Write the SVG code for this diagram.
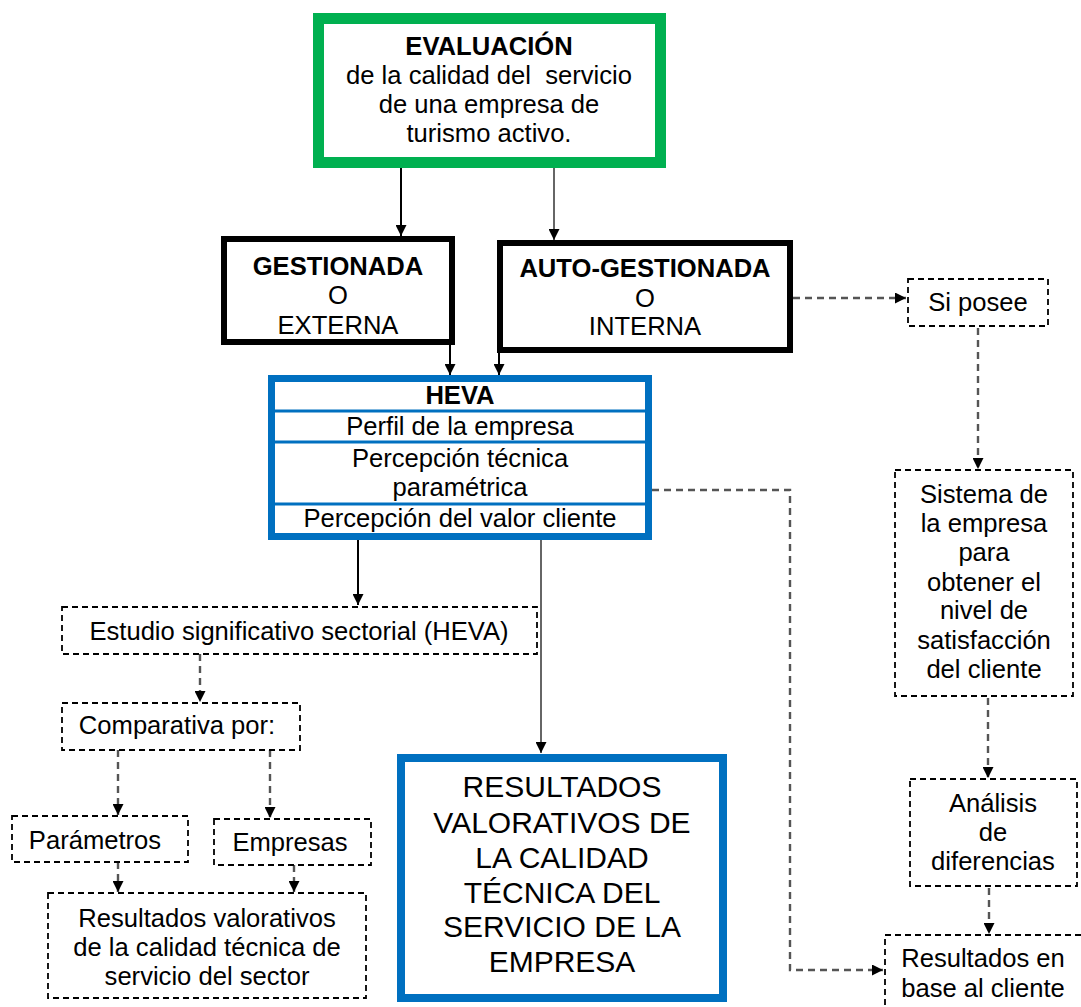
<svg xmlns="http://www.w3.org/2000/svg" width="1081" height="1007" viewBox="0 0 1081 1007">
  <style>
    .t { font-family: "Liberation Sans", Arial, sans-serif; font-size: 25.6px; text-anchor: middle; fill: #000; white-space: pre; }
    .b { font-weight: bold; }
    .big { font-size: 30px; }
    .dbox { fill: #fff; stroke: #000; stroke-width: 1.8; stroke-dasharray: 6 4; }
    .solid { fill: none; stroke: #000; stroke-width: 2; }
    .grey { fill: none; stroke: #666; stroke-width: 2; }
    .dash { fill: none; stroke: #555; stroke-width: 2.4; stroke-dasharray: 7 5; }
  </style>
  <defs>
    <marker id="arrow" viewBox="0 0 10 10" refX="10" refY="5" markerWidth="11" markerHeight="11" markerUnits="userSpaceOnUse" orient="auto">
      <path d="M0,0 L10,5 L0,10 z" fill="#000"/>
    </marker>
  </defs>

  <rect width="1081" height="1007" fill="#fff"/>

  <!-- connectors -->
  <g id="connectors">
    <line class="solid" x1="401" y1="168" x2="401" y2="236" marker-end="url(#arrow)"/>
    <line class="grey" x1="554" y1="168" x2="554" y2="240" marker-end="url(#arrow)"/>
    <line class="solid" x1="450" y1="345" x2="450" y2="375" marker-end="url(#arrow)"/>
    <line class="solid" x1="499" y1="353" x2="499" y2="375" marker-end="url(#arrow)"/>
    <line class="solid" x1="358" y1="540" x2="358" y2="605" marker-end="url(#arrow)"/>
    <line class="grey" x1="541" y1="540" x2="541" y2="753" marker-end="url(#arrow)"/>
    <line class="dash" x1="200" y1="654" x2="200" y2="702" marker-end="url(#arrow)"/>
    <line class="dash" x1="118" y1="750" x2="118" y2="815" marker-end="url(#arrow)"/>
    <line class="dash" x1="270" y1="750" x2="270" y2="818" marker-end="url(#arrow)"/>
    <line class="dash" x1="118" y1="862" x2="118" y2="892" marker-end="url(#arrow)"/>
    <line class="dash" x1="294" y1="865" x2="294" y2="892" marker-end="url(#arrow)"/>
    <line class="dash" x1="793" y1="298" x2="906" y2="298" marker-end="url(#arrow)"/>
    <line class="dash" x1="978" y1="328" x2="978" y2="469" marker-end="url(#arrow)"/>
    <line class="dash" x1="988" y1="698" x2="988" y2="778" marker-end="url(#arrow)"/>
    <line class="dash" x1="989" y1="876" x2="989" y2="934" marker-end="url(#arrow)"/>
    <path class="dash" d="M652,490 H790 V970 H883" marker-end="url(#arrow)"/>
  </g>

  <!-- evaluation -->
  <g id="evaluacion">
    <rect x="318.5" y="18.5" width="342" height="144" fill="#fff" stroke="#00B050" stroke-width="11"/>
    <text class="t b" x="489" y="55">EVALUACIÓN</text>
    <text class="t" x="489" y="84">de la calidad del  servicio</text>
    <text class="t" x="489" y="113">de una empresa de</text>
    <text class="t" x="489" y="142">turismo activo.</text>
  </g>

  <g id="gestionada">
    <rect x="224" y="239" width="228" height="103" fill="#fff" stroke="#000" stroke-width="6"/>
    <text class="t b" x="338" y="275">GESTIONADA</text>
    <text class="t" x="338" y="304">O</text>
    <text class="t" x="338" y="334">EXTERNA</text>
  </g>

  <g id="autogestionada">
    <rect x="500" y="243" width="290" height="107" fill="#fff" stroke="#000" stroke-width="6"/>
    <text class="t b" x="645" y="277">AUTO-GESTIONADA</text>
    <text class="t" x="645" y="307">O</text>
    <text class="t" x="645" y="335">INTERNA</text>
  </g>

  <g id="heva">
    <rect x="271.5" y="378.5" width="377" height="158" fill="#fff" stroke="#0070C0" stroke-width="7"/>
    <line x1="275" y1="411" x2="645" y2="411" stroke="#0070C0" stroke-width="3"/>
    <line x1="275" y1="442" x2="645" y2="442" stroke="#0070C0" stroke-width="3"/>
    <line x1="275" y1="504" x2="645" y2="504" stroke="#0070C0" stroke-width="3"/>
    <text class="t b" x="460" y="404">HEVA</text>
    <text class="t" x="460" y="435">Perfil de la empresa</text>
    <text class="t" x="460" y="467">Percepción técnica</text>
    <text class="t" x="460" y="496">paramétrica</text>
    <text class="t" x="460" y="527">Percepción del valor cliente</text>
  </g>

  <g id="estudio">
    <rect class="dbox" x="62" y="607" width="475" height="47"/>
    <text class="t" x="299" y="640">Estudio significativo sectorial (HEVA)</text>
  </g>

  <g id="comparativa">
    <rect class="dbox" x="62" y="703" width="238" height="47"/>
    <text class="t" x="177" y="734">Comparativa por:</text>
  </g>

  <g id="parametros">
    <rect class="dbox" x="12" y="816" width="176" height="46"/>
    <text class="t" x="95" y="849">Parámetros</text>
  </g>

  <g id="empresas">
    <rect class="dbox" x="214" y="819" width="157" height="46"/>
    <text class="t" x="290" y="851">Empresas</text>
  </g>

  <g id="resultados-sector">
    <rect class="dbox" x="48" y="893" width="318" height="105"/>
    <text class="t" x="207" y="927">Resultados valorativos</text>
    <text class="t" x="207" y="956">de la calidad técnica de</text>
    <text class="t" x="207" y="985">servicio del sector</text>
  </g>

  <g id="resultados-empresa">
    <rect x="401" y="758" width="322" height="240" fill="#fff" stroke="#0070C0" stroke-width="8"/>
    <text class="t big" x="562" y="797">RESULTADOS</text>
    <text class="t big" x="562" y="833">VALORATIVOS DE</text>
    <text class="t big" x="562" y="868">LA CALIDAD</text>
    <text class="t big" x="562" y="903">TÉCNICA DEL</text>
    <text class="t big" x="562" y="937">SERVICIO DE LA</text>
    <text class="t big" x="562" y="972">EMPRESA</text>
  </g>

  <g id="si-posee">
    <rect class="dbox" x="908" y="279" width="140" height="47"/>
    <text class="t" x="978" y="311">Si posee</text>
  </g>

  <g id="sistema">
    <rect class="dbox" x="895" y="470" width="178" height="226"/>
    <text class="t" x="984" y="503">Sistema de</text>
    <text class="t" x="984" y="532">la empresa</text>
    <text class="t" x="984" y="561">para</text>
    <text class="t" x="984" y="591">obtener el</text>
    <text class="t" x="984" y="619">nivel de</text>
    <text class="t" x="984" y="649">satisfacción</text>
    <text class="t" x="984" y="678">del cliente</text>
  </g>

  <g id="analisis">
    <rect class="dbox" x="910" y="779" width="167" height="107"/>
    <text class="t" x="993" y="812">Análisis</text>
    <text class="t" x="993" y="841">de</text>
    <text class="t" x="993" y="870">diferencias</text>
  </g>

  <g id="resultados-cliente">
    <rect class="dbox" x="885" y="935" width="210" height="90"/>
    <text class="t" x="983" y="967">Resultados en</text>
    <text class="t" x="983" y="997">base al cliente</text>
  </g>
</svg>
